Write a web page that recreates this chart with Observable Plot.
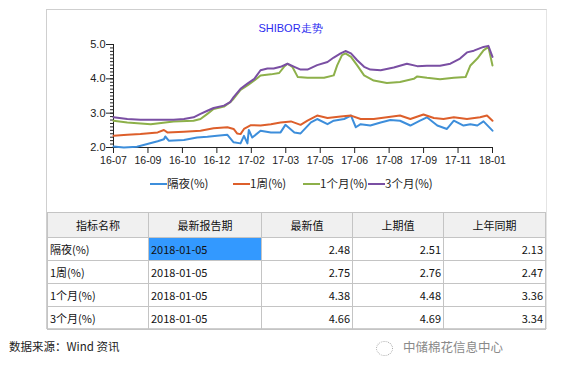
<!DOCTYPE html>
<html><head><meta charset="utf-8">
<script src="https://cdn.jsdelivr.net/npm/d3@7"></script>
<script src="https://cdn.jsdelivr.net/npm/@observablehq/plot@0.6"></script>
<style>
body{margin:0;background:#fff;width:561px;height:379px;position:relative;overflow:hidden;font-family:"Noto Sans CJK SC",sans-serif;}
#frame{position:absolute;left:46px;top:9px;width:501px;height:320px;border:1px solid #cfcfcf;border-right-color:#e4e4e4;box-sizing:border-box;}
#title{position:absolute;left:0;width:561px;top:21px;text-align:center;font:11px "Liberation Sans",sans-serif;color:#2b2bf0;padding-left:20px;box-sizing:border-box;}
#chart{position:absolute;left:47px;top:35px;}
#legend{position:absolute;top:175px;left:150px;font:11.5px "Noto Sans CJK SC",sans-serif;color:#222;white-space:nowrap;}
#legend span.it{position:absolute;top:0;white-space:nowrap;}
#legend i{display:inline-block;width:17px;height:2px;vertical-align:middle;position:relative;top:-1px;}
table{position:absolute;left:47px;top:212px;border-collapse:collapse;font:11px "Noto Sans CJK SC",sans-serif;color:#111;table-layout:fixed;}
td,th{border:1px solid #c4c4c4;height:22px;padding:0 2px;white-space:nowrap;}
th{font-weight:normal;background:#f0f0f0;height:24px;}
td.num{text-align:right;}
td.sel{background:#3399ff;}
#src{position:absolute;left:9px;top:338px;font:11.5px "Noto Sans CJK SC",sans-serif;color:#222;}
#brand{position:absolute;left:376px;top:337px;font:12.5px "Noto Sans CJK SC",sans-serif;color:#8a8a8a;}
</style></head>
<body>
<div id="frame"></div>
<div id="title">SHIBOR走势</div>
<div id="chart"></div>
<div id="legend"></div>
<table id="tbl"></table>
<div id="src">数据来源：Wind 资讯</div>
<div id="brand"><span style="display:inline-block;width:15px;height:13px;border:1px dotted #aaa;border-radius:50%;vertical-align:middle;margin-right:10px;"></span>中储棉花信息中心</div>
<script>
// ---- data ----
const seriesNames = ["隔夜(%)", "1周(%)", "1个月(%)", "3个月(%)"];
const seriesColors = ["#3d8edb", "#dd5f2b", "#8db04a", "#7a4fa3"];
const xTickLabels = ["16-07","16-09","16-10","16-12","17-02","17-03","17-05","17-06","17-08","17-09","17-11","18-01"];
const yTicks = [2, 3, 4, 5];

const overnight = [
["2016-07-05",2.03],["2016-07-20",2.00],["2016-08-08",2.02],["2016-08-23",2.10],["2016-09-07",2.18],
["2016-09-16",2.24],["2016-09-18",2.32],["2016-09-23",2.20],["2016-10-15",2.22],["2016-11-03",2.29],
["2016-11-18",2.31],["2016-12-02",2.34],["2016-12-17",2.37],["2016-12-26",2.15],["2017-01-05",2.12],
["2017-01-10",2.34],["2017-01-15",2.12],["2017-01-17",2.51],["2017-01-22",2.29],["2017-02-03",2.49],
["2017-02-18",2.44],["2017-03-04",2.44],["2017-03-11",2.66],["2017-03-24",2.44],["2017-04-02",2.41],
["2017-04-17",2.73],["2017-04-26",2.83],["2017-05-11",2.68],["2017-05-20",2.78],["2017-06-04",2.83],
["2017-06-14",2.93],["2017-06-21",2.59],["2017-06-28",2.68],["2017-07-12",2.64],["2017-07-27",2.73],
["2017-08-10",2.80],["2017-08-24",2.78],["2017-09-08",2.64],["2017-09-22",2.78],["2017-10-02",2.88],
["2017-10-17",2.64],["2017-10-31",2.54],["2017-11-10",2.78],["2017-11-24",2.64],["2017-12-04",2.68],
["2017-12-14",2.64],["2017-12-23",2.76],["2018-01-05",2.49]
];
const week1 = [
["2016-07-05",2.34],["2016-07-25",2.37],["2016-08-13",2.39],["2016-09-07",2.44],["2016-09-16",2.51],
["2016-09-21",2.44],["2016-10-15",2.46],["2016-11-08",2.49],["2016-11-27",2.56],["2016-12-17",2.59],
["2016-12-26",2.54],["2016-12-31",2.41],["2017-01-05",2.39],["2017-01-10",2.54],["2017-01-20",2.65],
["2017-02-03",2.64],["2017-02-18",2.68],["2017-03-04",2.73],["2017-03-19",2.76],["2017-04-02",2.66],
["2017-04-12",2.78],["2017-04-26",2.93],["2017-05-11",2.86],["2017-05-30",2.90],["2017-06-14",2.93],
["2017-06-28",2.83],["2017-07-17",2.83],["2017-08-05",2.88],["2017-08-24",2.93],["2017-09-08",2.83],
["2017-09-27",2.96],["2017-10-12",2.86],["2017-10-26",2.83],["2017-11-10",2.88],["2017-11-29",2.83],
["2017-12-18",2.88],["2017-12-28",2.93],["2018-01-05",2.78]
];
const month1 = [
["2016-07-05",2.78],["2016-07-25",2.73],["2016-08-28",2.68],["2016-09-30",2.76],["2016-10-29",2.78],
["2016-11-08",2.83],["2016-11-18",2.98],["2016-11-27",3.12],["2016-12-12",3.19],["2016-12-21",3.32],
["2016-12-26",3.42],["2017-01-05",3.68],["2017-01-15",3.81],["2017-01-25",3.95],["2017-02-03",4.10],
["2017-02-18",4.13],["2017-03-02",4.17],["2017-03-09",4.35],["2017-03-14",4.44],["2017-03-21",4.35],
["2017-03-29",4.05],["2017-04-12",4.03],["2017-05-06",4.03],["2017-05-20",4.10],["2017-05-25",4.39],
["2017-06-01",4.69],["2017-06-06",4.74],["2017-06-14",4.64],["2017-06-23",4.39],["2017-07-03",4.10],
["2017-07-17",3.95],["2017-08-05",3.88],["2017-08-24",3.91],["2017-09-13",4.00],["2017-09-18",4.07],
["2017-10-02",4.03],["2017-10-21",3.99],["2017-11-10",4.03],["2017-11-27",4.05],["2017-12-04",4.39],
["2017-12-14",4.59],["2017-12-23",4.83],["2017-12-30",4.93],["2018-01-05",4.39]
];
const month3 = [
["2016-07-05",2.88],["2016-07-25",2.83],["2016-08-13",2.81],["2016-09-30",2.81],["2016-10-15",2.83],
["2016-10-29",2.88],["2016-11-08",2.98],["2016-11-18",3.07],["2016-11-27",3.15],["2016-12-12",3.22],
["2016-12-21",3.32],["2016-12-26",3.47],["2017-01-05",3.71],["2017-01-15",3.86],["2017-01-25",4.00],
["2017-02-03",4.25],["2017-02-13",4.30],["2017-02-22",4.30],["2017-03-04",4.35],["2017-03-14",4.44],
["2017-03-24",4.35],["2017-04-02",4.27],["2017-04-12",4.27],["2017-04-26",4.40],["2017-05-11",4.49],
["2017-05-20",4.62],["2017-05-30",4.74],["2017-06-06",4.81],["2017-06-14",4.74],["2017-06-23",4.54],
["2017-07-03",4.35],["2017-07-12",4.27],["2017-07-27",4.25],["2017-08-15",4.33],["2017-09-03",4.44],
["2017-09-18",4.37],["2017-10-02",4.38],["2017-10-21",4.38],["2017-11-05",4.44],["2017-11-19",4.59],
["2017-11-29",4.77],["2017-12-09",4.82],["2017-12-23",4.93],["2017-12-30",4.96],["2018-01-05",4.64]
];

const tableHeader = ["指标名称", "最新报告期", "最新值", "上期值", "上年同期"];
const tableDates = ["2018-01-05", "2018-01-05", "2018-01-05", "2018-01-05"];
const latestValues = [2.48, 2.75, 4.38, 4.66];
const previousValues = [2.51, 2.76, 4.48, 4.69];
const lastYearValues = [2.13, 2.47, 3.36, 3.34];

// ---- build chart ----
const parse = d3.utcParse("%Y-%m-%d");
const allSeries = [overnight, week1, month1, month3];
const rows = allSeries.flatMap((s, i) => s.map(([d, v]) => ({date: parse(d), value: v, series: seriesNames[i]})));
const x0 = parse("2016-07-05"), x1 = parse("2018-01-05");
const xTicks = xTickLabels.map((_, i) => new Date(+x0 + i * (x1 - x0) / (xTickLabels.length - 1)));
const minorY = d3.range(20, 51).map(v => v / 10);

const chart = Plot.plot({
  width: 500, height: 137,
  marginLeft: 66, marginRight: 55, marginTop: 9, marginBottom: 25,
  style: {fontFamily: "Liberation Sans, sans-serif", fontSize: "10.5px", color: "#222", background: "transparent"},
  x: {type: "utc", domain: [x0, x1]},
  y: {domain: [2, 5]},
  color: {domain: seriesNames, range: seriesColors},
  marks: [
    Plot.axisY({ticks: minorY, tickSize: 3, tickFormat: () => "", label: null, stroke: "#222"}),
    Plot.axisY({ticks: yTicks, tickSize: 7, tickPadding: 1, tickFormat: d3.format(".1f"), label: null, fontSize: 11}),
    Plot.axisX({ticks: xTicks, tickSize: 6, tickPadding: 3, tickFormat: (d, i) => xTickLabels[i], label: null}),
    Plot.ruleX([x0], {stroke: "#222"}),
    Plot.ruleY([2], {stroke: "#222"}),
    Plot.lineY(rows, {x: "date", y: "value", z: "series", stroke: "series", strokeWidth: 2})
  ]
});
document.getElementById("chart").appendChild(chart);

// legend
const legendX = [0, 83, 153, 218];
const legend = document.getElementById("legend");
seriesNames.forEach((n, i) => {
  const s = document.createElement("span");
  s.className = "it";
  s.style.left = legendX[i] + "px";
  s.innerHTML = `<i style="background:${seriesColors[i]}"></i>${n}`;
  legend.appendChild(s);
});

// table
const tbl = document.getElementById("tbl");
const colW = [101, 113, 91, 91, 102];
let html = "<colgroup>" + colW.map(w => `<col style="width:${w}px">`).join("") + "</colgroup>";
html += "<tr>" + tableHeader.map(h => `<th>${h}</th>`).join("") + "</tr>";
seriesNames.forEach((n, i) => {
  html += `<tr><td>${n}</td><td class="${i === 0 ? "sel" : ""}">${tableDates[i]}</td>` +
    `<td class="num">${latestValues[i].toFixed(2)}</td><td class="num">${previousValues[i].toFixed(2)}</td><td class="num">${lastYearValues[i].toFixed(2)}</td></tr>`;
});
tbl.innerHTML = html;
</script>
</body></html>
